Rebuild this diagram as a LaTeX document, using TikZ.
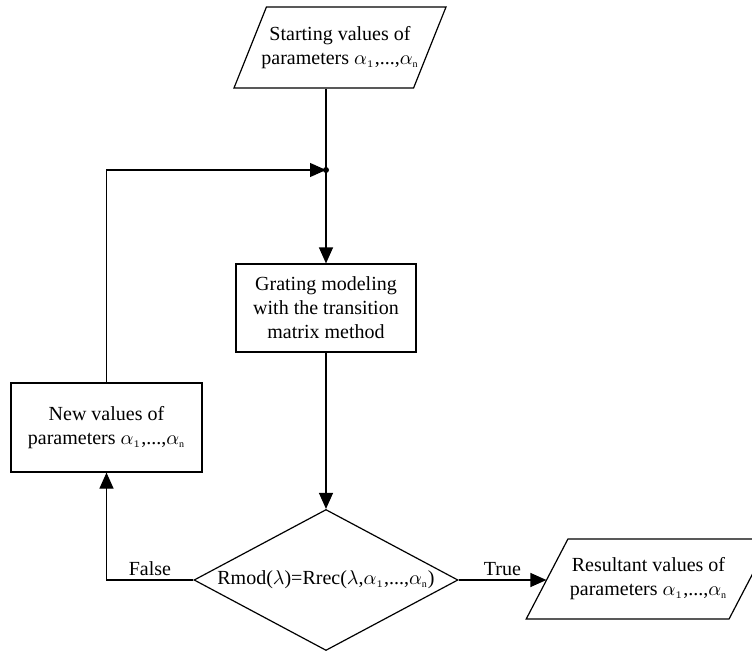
\documentclass[tikz,border=0pt]{standalone}
\usepackage{fontspec}
\setmainfont{Liberation Serif}
\usetikzlibrary{calc,arrows.meta,shapes.geometric}
\tikzset{
  box/.style={draw, rectangle, align=center, inner sep=2pt},
  slanted/.style={draw, trapezium, trapezium stretches body=true, align=center, inner sep=1pt},
  test/.style={draw, diamond, inner sep=0pt, shape aspect=1.87, align=center},
  flow/.style={-{Triangle[length=8pt,width=7pt]}},
  branch/.style={above, inner sep=2pt},
}
\newcommand{\params}{parameters $\alpha_{\scriptscriptstyle 1}$,...,$\alpha_{\scriptscriptstyle\mathrm{n}}$}

\begin{document}
\begin{tikzpicture}[x=0.5pt,y=-0.5pt,line width=0.6pt]
		%%%%% START %%%%%
		\useasboundingbox (0,0) rectangle (752,653);
		
		\node[slanted, trapezium left angle=55, trapezium right angle=125, inner xsep=-2.5pt, minimum width=84pt, minimum height=40.5pt] (start) at (340,47.5) {Starting values of\\\params};
		\node[box, minimum width=90pt, minimum height=44pt] (model) at (326,308) {Grating modeling\\with the transition\\matrix method};
		\node[test, minimum width=132pt, minimum height=70.5pt] (check) at (326,580) {Rmod($\lambda$)=Rrec($\lambda$,$\alpha_{\scriptscriptstyle 1}$,...,$\alpha_{\scriptscriptstyle\mathrm{n}}$)};
		\node[box, minimum width=95.5pt, minimum height=44.5pt] (newval) at (106.5,427.5) {New values of\\\params};
		\node[slanted, trapezium left angle=48, trapezium right angle=132, minimum width=98.5pt, minimum height=40pt] (result) at (648.5,579) {Resultant values of\\\params};
		
		\coordinate (join) at (326,170);
		
		\draw (join |- start.south) -- (join);
		\draw[flow] (join) -- (model);
		\fill (join) circle (1.5pt);
		\draw[flow] (model) -- (check);
		\draw[flow] (check.west) -- node[branch] {False} (check.west -| newval) -- (newval);
		\draw[flow] (newval) |- (join);
		\draw[flow] (check.east) -- node[branch] {True} (check.east -| result.west);
		
		%%%%% END %%%%%
	\end{tikzpicture}
\end{document}
